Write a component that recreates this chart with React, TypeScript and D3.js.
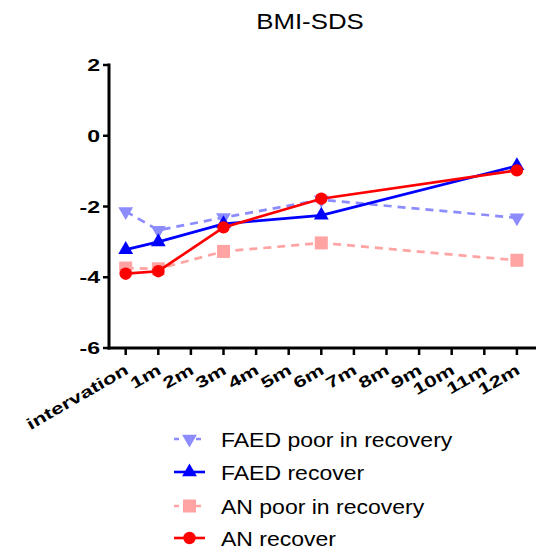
import React from "react";
import * as d3 from "d3";

const categories = ["intervation", "1m", "2m", "3m", "4m", "5m", "6m", "7m", "8m", "9m", "10m", "11m", "12m"];
const measuredAt = ["intervation", "1m", "3m", "6m", "12m"];
const faedPoor = [-2.14, -2.67, -2.31, -1.81, -2.32];
const faedRecover = [-3.22, -3.0, -2.49, -2.25, -0.85];
const anPoor = [-3.74, -3.76, -3.27, -3.03, -3.52];
const anRecover = [-3.9, -3.83, -2.59, -1.78, -0.98];
const yTicks = [2, 0, -2, -4, -6];

const series = [
  { name: "FAED poor in recovery", values: faedPoor, color: "#8c8cff", dash: "8,6", marker: "down" },
  { name: "FAED recover", values: faedRecover, color: "#0000ff", dash: "", marker: "up" },
  { name: "AN poor in recovery", values: anPoor, color: "#ffa3a3", dash: "8,6", marker: "square" },
  { name: "AN recover", values: anRecover, color: "#ff0000", dash: "", marker: "circle" },
];

const FONT = "'Liberation Sans', Arial, Helvetica, sans-serif";

function Marker({ type, x, y, color }: { type: string; x: number; y: number; color: string }) {
  if (type === "circle") return <circle cx={x} cy={y} r={6.2} fill={color} />;
  if (type === "square") return <rect x={x - 6.5} y={y - 6.5} width={13} height={13} fill={color} />;
  const sym = d3.symbol().type(d3.symbolTriangle).size(95)();
  const rot = type === "down" ? 180 : 0;
  return <path d={sym || ""} transform={`translate(${x},${y}) rotate(${rot})`} fill={color} />;
}

export default function App() {
  const x = d3.scalePoint<string>().domain(categories).range([125.7, 516.9]);
  const y = d3.scaleLinear().domain([-6, 2]).range([348, 65]);
  const axisX0 = 109;
  const line = d3
    .line<[string, number]>()
    .x((d) => x(d[0]) as number)
    .y((d) => y(d[1]));

  const legendY = [439, 472, 506, 538];

  return (
    <svg width={536} height={556} style={{ position: "absolute", left: 0, top: 0, background: "#fff" }} fontFamily={FONT}>
      <text transform="translate(310,29) scale(1.2,1)" textAnchor="middle" fontSize={21.5} fill="#000">
        BMI-SDS
      </text>

      {/* y axis */}
      <line x1={axisX0} x2={axisX0} y1={y(2) - 1.5} y2={y(-6) + 1.5} stroke="#000" strokeWidth={3} />
      {yTicks.map((t) => (
        <g key={t}>
          <line x1={axisX0 - 6} x2={axisX0} y1={y(t)} y2={y(t)} stroke="#000" strokeWidth={2.5} />
          <text
            transform={`translate(${axisX0 - 9},${y(t) + 6}) scale(1.4,1)`}
            textAnchor="end"
            fontSize={16.5}
            fontWeight="bold"
            fill="#000"
          >
            {t}
          </text>
        </g>
      ))}

      {/* x axis */}
      <line x1={axisX0 - 1.5} x2={540} y1={y(-6)} y2={y(-6)} stroke="#000" strokeWidth={3} />
      {categories.map((c) => (
        <g key={c}>
          <line x1={x(c)} x2={x(c)} y1={y(-6)} y2={y(-6) + 7} stroke="#000" strokeWidth={2.5} />
          <text
            transform={`translate(${(x(c) as number) + 4},${y(-6) + 25}) rotate(-30) scale(1.4,1)`}
            textAnchor="end"
            fontSize={16}
            fontWeight="bold"
            fill="#000"
          >
            {c}
          </text>
        </g>
      ))}

      {/* series */}
      {series.map((s) => {
        const pts = measuredAt.map((c, i) => [c, s.values[i]] as [string, number]);
        return (
          <g key={s.name}>
            <path d={line(pts) || ""} fill="none" stroke={s.color} strokeWidth={2.7} strokeDasharray={s.dash || undefined} />
            {pts.map((p, i) => (
              <Marker key={i} type={s.marker} x={x(p[0]) as number} y={y(p[1])} color={s.color} />
            ))}
          </g>
        );
      })}

      {/* legend */}
      {series.map((s, i) => (
        <g key={s.name}>
          <line x1={174} x2={205} y1={legendY[i]} y2={legendY[i]} stroke={s.color} strokeWidth={2.6} strokeDasharray={s.dash ? "5,6" : undefined} />
          <Marker type={s.marker} x={189.5} y={legendY[i]} color={s.color} />
          <text transform={`translate(221,${legendY[i] + 7.5}) scale(1.15,1)`} fontSize={20} fill="#000">
            {s.name}
          </text>
        </g>
      ))}
    </svg>
  );
}
